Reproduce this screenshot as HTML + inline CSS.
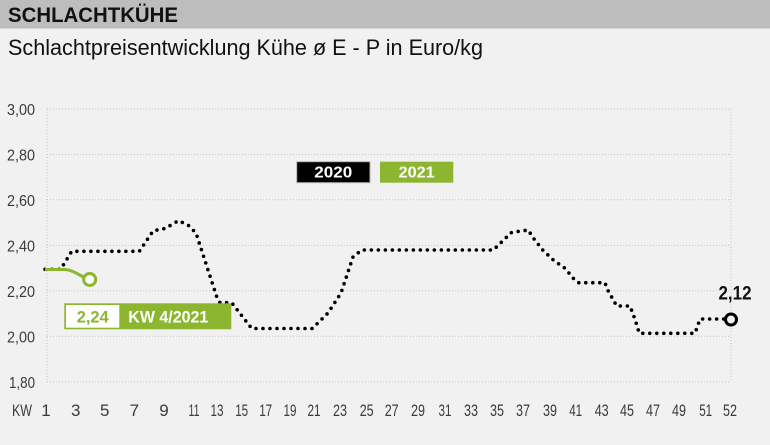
<!DOCTYPE html>
<html><head><meta charset="utf-8"><style>
html,body{margin:0;padding:0;background:#f1f1f1;}
svg{display:block;}
text{font-family:"Liberation Sans Narrow","Liberation Sans",sans-serif;}
.w{font-family:"Liberation Sans",sans-serif;}
</style></head><body>
<svg width="770" height="445" viewBox="0 0 770 445" xmlns="http://www.w3.org/2000/svg">
<rect x="0" y="0" width="770" height="445" fill="#f1f1f1"/>
<rect x="0" y="0" width="770" height="28" fill="#bdbdbd"/>
<rect x="0" y="28" width="770" height="1" fill="#d6d6d6"/>
<text class="w" x="8" y="22" font-size="21" font-weight="bold" fill="#111" textLength="170" lengthAdjust="spacingAndGlyphs">SCHLACHTKÜHE</text>
<text class="w" x="8" y="55" font-size="22" fill="#111" textLength="475" lengthAdjust="spacingAndGlyphs">Schlachtpreisentwicklung Kühe ø E - P in Euro/kg</text>

<g stroke="#c2c2c2" stroke-width="1" stroke-dasharray="1 2" fill="none">
<line x1="47" y1="109" x2="731" y2="109"/>
<line x1="47" y1="154.5" x2="731" y2="154.5"/>
<line x1="47" y1="199.8" x2="731" y2="199.8"/>
<line x1="47" y1="245.4" x2="731" y2="245.4"/>
<line x1="47" y1="290.8" x2="731" y2="290.8"/>
<line x1="47" y1="336.3" x2="731" y2="336.3"/>
<line x1="47" y1="381.8" x2="731" y2="381.8"/>
<line x1="47" y1="109" x2="47" y2="382"/>
<line x1="731" y1="109" x2="731" y2="382"/>
</g>

<g font-size="16" fill="#3a3a3a" text-anchor="end">
<text x="35" y="115" textLength="28" lengthAdjust="spacingAndGlyphs">3,00</text>
<text x="35" y="160.5" textLength="28" lengthAdjust="spacingAndGlyphs">2,80</text>
<text x="35" y="205.8" textLength="28" lengthAdjust="spacingAndGlyphs">2,60</text>
<text x="35" y="251.4" textLength="28" lengthAdjust="spacingAndGlyphs">2,40</text>
<text x="35" y="296.8" textLength="28" lengthAdjust="spacingAndGlyphs">2,20</text>
<text x="35" y="342.3" textLength="28" lengthAdjust="spacingAndGlyphs">2,00</text>
<text x="35" y="387.8" textLength="26" lengthAdjust="spacingAndGlyphs">1,80</text>
</g>

<g font-size="17" fill="#3a3a3a" text-anchor="middle">
<text x="22" y="416" textLength="20" lengthAdjust="spacingAndGlyphs">KW</text>
<text x="46" y="416">1</text>
<text x="75.7" y="416">3</text>
<text x="104.7" y="416">5</text>
<text x="134.3" y="416">7</text>
<text x="164" y="416">9</text>
<text x="194" y="416" textLength="11" lengthAdjust="spacingAndGlyphs">11</text>
<text x="217" y="416" textLength="13" lengthAdjust="spacingAndGlyphs">13</text>
<text x="241.7" y="416" textLength="13" lengthAdjust="spacingAndGlyphs">15</text>
<text x="265.7" y="416" textLength="13" lengthAdjust="spacingAndGlyphs">17</text>
<text x="290" y="416" textLength="13" lengthAdjust="spacingAndGlyphs">19</text>
<text x="314" y="416" textLength="13" lengthAdjust="spacingAndGlyphs">21</text>
<text x="340" y="416" textLength="14" lengthAdjust="spacingAndGlyphs">23</text>
<text x="366.7" y="416" textLength="14" lengthAdjust="spacingAndGlyphs">25</text>
<text x="391.7" y="416" textLength="14" lengthAdjust="spacingAndGlyphs">27</text>
<text x="418" y="416" textLength="14" lengthAdjust="spacingAndGlyphs">29</text>
<text x="445" y="416" textLength="13" lengthAdjust="spacingAndGlyphs">31</text>
<text x="471" y="416" textLength="14" lengthAdjust="spacingAndGlyphs">33</text>
<text x="497" y="416" textLength="14" lengthAdjust="spacingAndGlyphs">35</text>
<text x="523" y="416" textLength="14" lengthAdjust="spacingAndGlyphs">37</text>
<text x="550" y="416" textLength="14" lengthAdjust="spacingAndGlyphs">39</text>
<text x="575.7" y="416" textLength="13" lengthAdjust="spacingAndGlyphs">41</text>
<text x="601.7" y="416" textLength="14" lengthAdjust="spacingAndGlyphs">43</text>
<text x="627" y="416" textLength="14" lengthAdjust="spacingAndGlyphs">45</text>
<text x="653" y="416" textLength="14" lengthAdjust="spacingAndGlyphs">47</text>
<text x="679" y="416" textLength="14" lengthAdjust="spacingAndGlyphs">49</text>
<text x="705.7" y="416" textLength="13" lengthAdjust="spacingAndGlyphs">51</text>
<text x="730" y="416" textLength="14" lengthAdjust="spacingAndGlyphs">52</text>
</g>

<!-- 2020 dotted series -->
<path d="M45,269.3 L60.7,269.3 L71.7,251.3 L139.3,251.3 L153.3,230.7 L165,228.5 L178.3,220.7 L188,225 L196,233 L216.7,296.7 L220,302.7 L231.7,302.7 L251.7,328.5 L312.3,328.5 L328,313 L341,293 L348,272 L353,257 L361.7,250 L493.3,250 L511.7,232.3 L528.3,230 L532.7,237.3 L542.7,250 L553.3,260 L565,268.3 L573.3,278.3 L578.3,282.7 L605,282.7 L607.3,289.3 L616.7,306 L630,306 L635,319.3 L639.3,333.3 L695,333.3 L700,319 L724,319" fill="none" stroke="#000" stroke-width="3.6" stroke-linecap="round" stroke-dasharray="0 7"/>
<circle cx="731" cy="319.5" r="5.5" fill="#f1f1f1" stroke="#000" stroke-width="3"/>
<text x="735" y="299.3" font-size="19" font-weight="bold" fill="#111" text-anchor="middle" textLength="33" lengthAdjust="spacingAndGlyphs">2,12</text>

<!-- 2021 green series -->
<path d="M45,269.5 L64,269.5 Q69,269.5 75,272.5 L83.5,277" fill="none" stroke="#8cb630" stroke-width="3"/>
<circle cx="89.7" cy="279.5" r="6" fill="#fff" stroke="#8cb630" stroke-width="3"/>

<!-- annotation -->
<rect x="64.3" y="303.3" width="167" height="26" fill="#8cb630"/>
<rect x="66" y="305" width="53.3" height="22.7" fill="#fff"/>
<text x="92.7" y="322.5" font-size="17" font-weight="bold" fill="#8cb630" text-anchor="middle" textLength="32" lengthAdjust="spacingAndGlyphs">2,24</text>
<text x="168.3" y="322.5" font-size="17" font-weight="bold" fill="#fff" text-anchor="middle" textLength="80" lengthAdjust="spacingAndGlyphs">KW 4/2021</text>

<!-- legend -->
<rect x="296.7" y="161.7" width="73.3" height="21" fill="#000" stroke="#b5b5b5" stroke-width="1"/>
<text x="333.3" y="177.5" font-size="16" font-weight="bold" fill="#fff" text-anchor="middle" textLength="38" lengthAdjust="spacingAndGlyphs">2020</text>
<rect x="380" y="161.7" width="73.3" height="21" fill="#8cb630"/>
<text x="416.7" y="177.5" font-size="16" font-weight="bold" fill="#fff" text-anchor="middle" textLength="36" lengthAdjust="spacingAndGlyphs">2021</text>
</svg>
</body></html>
